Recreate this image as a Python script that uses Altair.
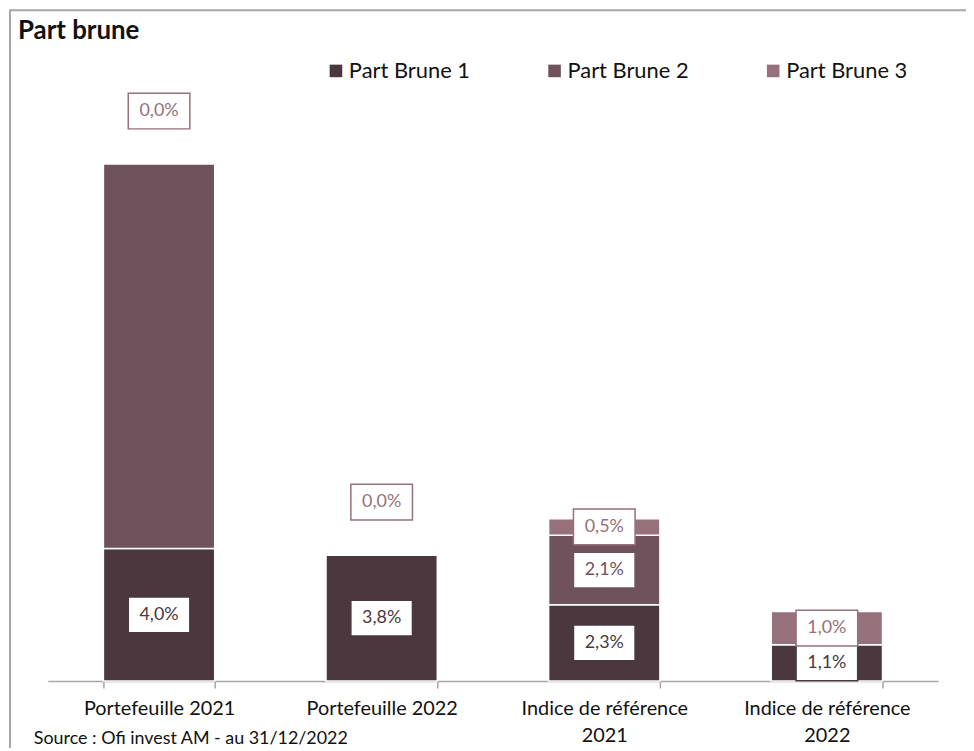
import altair as alt
import pandas as pd

categories = ["Portefeuille 2021", "Portefeuille 2022",
              "Indice de référence 2021", "Indice de référence 2022"]
series = ["Part Brune 1", "Part Brune 2", "Part Brune 3"]
part_brune_1 = [4.0, 3.8, 2.3, 1.1]
part_brune_2 = [11.6, 0.0, 2.1, 0.0]
part_brune_3 = [0.0, 0.0, 0.5, 1.0]
labels_1 = ["4,0%", "3,8%", "2,3%", "1,1%"]
labels_2 = ["", "", "2,1%", ""]
labels_3 = ["0,0%", "0,0%", "0,5%", "1,0%"]
colors = ["#4b373e", "#6f525b", "#96707a"]
title_text = "Part brune"
source_text = "Source : Ofi invest AM - au 31/12/2022"

FONT = "Lato"

rows = []
for i, cat in enumerate(categories):
    base = 0.0
    for s, vals, labs in zip(series, [part_brune_1, part_brune_2, part_brune_3],
                             [labels_1, labels_2, labels_3]):
        v = vals[i]
        rows.append({"cat": cat, "series": s, "value": v, "start": base,
                     "end": base + v, "label": labs[i]})
        base += v
df = pd.DataFrame(rows)
one = pd.DataFrame({"t": [title_text], "s": [source_text]})

color_scale = alt.Scale(domain=series, range=colors)
xenc = alt.X("cat:N", sort=categories,
             scale=alt.Scale(paddingInner=0.5, paddingOuter=0.25),
             axis=alt.Axis(title=None, labelAngle=0, domainColor="#a6a6a6",
                           domainWidth=1.5, tickColor="#a6a6a6", tickWidth=1.5,
                           tickBand="extent", tickSize=7, labelFont=FONT,
                           labelFontSize=20, labelColor="#111", labelPadding=21,
                           labelLineHeight=27, labelBaseline="middle",
                           labelExpr="length(datum.label) > 18 ? [slice(datum.label, 0, lastindexof(datum.label, ' ')), slice(datum.label, lastindexof(datum.label, ' ') + 1)] : datum.label"))
yscale = alt.Scale(domain=[0, 17.45], nice=False, zero=True)

bars = alt.Chart(df).transform_filter("datum.value > 0").mark_bar(
    stroke="white", strokeWidth=1.5
).encode(
    x=xenc,
    y=alt.Y("start:Q", scale=yscale, axis=None),
    y2="end:Q",
    color=alt.Color("series:N", scale=color_scale, sort=series,
                    legend=alt.Legend(title=None, orient="none", direction="horizontal",
                                      legendX=279, legendY=-43, symbolType="square",
                                      symbolSize=160, symbolStrokeWidth=0,
                                      labelFont=FONT, labelFontSize=22,
                                      labelColor="#111", columnPadding=74,
                                      labelOffset=2, padding=0)),
)

lab = alt.Chart(df).transform_filter("datum.label != ''").transform_calculate(
    pos="datum.value > 0 ? (datum.start + datum.end) / 2 : datum.end + 1.6"
)

boxes = lab.mark_point(
    shape="M-1,-0.58L1,-0.58L1,0.58L-1,0.58Z", size=3844, filled=True,
    fill="white", strokeWidth=1.5, opacity=1
).encode(
    x=alt.X("cat:N", sort=categories),
    y=alt.Y("pos:Q", scale=yscale),
    stroke=alt.Color("series:N", scale=color_scale, legend=None),
)

texts = lab.mark_text(font=FONT, fontSize=18, baseline="middle", align="center").encode(
    x=alt.X("cat:N", sort=categories),
    y=alt.Y("pos:Q", scale=yscale),
    text="label:N",
    color=alt.Color("series:N", scale=color_scale, legend=None),
)

frame_top = alt.Chart(one).mark_rule(color="#a6a6a6", strokeWidth=2).encode(
    x=alt.value(-39), x2=alt.value(930), y=alt.value(-93)
)
frame_left = alt.Chart(one).mark_rule(color="#a6a6a6", strokeWidth=2).encode(
    x=alt.value(-38), y=alt.value(-93), y2=alt.value(700)
)
title = alt.Chart(one).mark_text(font=FONT, fontSize=26, fontWeight="bold", align="left",
                                 baseline="middle", color="#111").encode(
    x=alt.value(-30), y=alt.value(-72), text="t:N"
)
source = alt.Chart(one).mark_text(font=FONT, fontSize=18, align="left",
                                  baseline="middle", color="#111").encode(
    x=alt.value(-14), y=alt.value(640), text="s:N"
)

chart = alt.layer(frame_top, frame_left, title, bars, boxes, texts, source).properties(
    width=896, height=582,
    autosize=alt.AutoSizeParams(type="none"),
    padding={"left": 40, "top": 93, "right": 28, "bottom": 65},
).configure_view(stroke=None)

chart.save("out.html", embed_options={"renderer": "svg", "actions": False})
